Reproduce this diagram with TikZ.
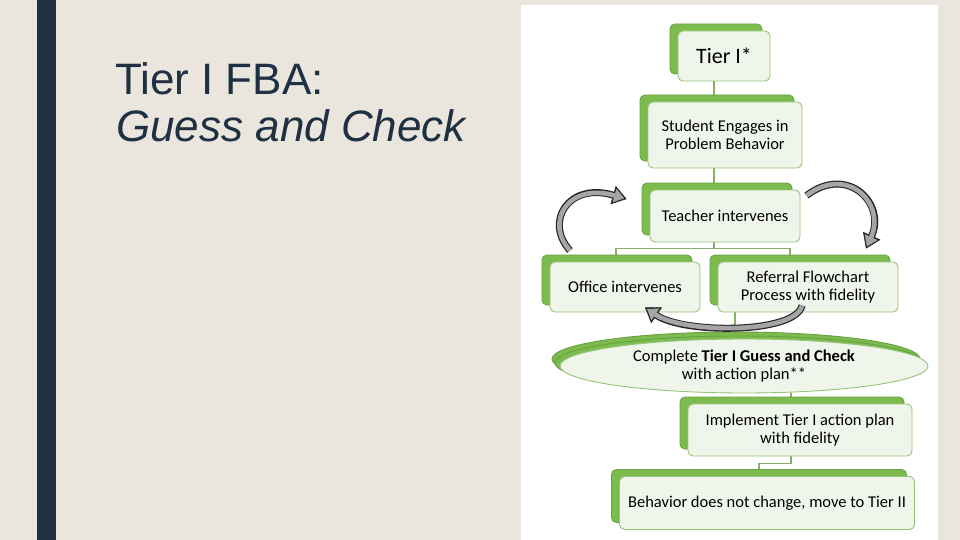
\documentclass[tikz,border=0pt]{standalone}
\usepackage{fontspec}
\setmainfont{Liberation Sans}
\newfontfamily\boxfont{Carlito}
\usetikzlibrary{shadows,arrows.meta,shapes.geometric,positioning}
\definecolor{slidebg}{RGB}{234,230,222}
\definecolor{navy}{RGB}{30,48,66}
\definecolor{leafgreen}{RGB}{124,188,78}
\definecolor{palegreen}{RGB}{240,245,235}
\definecolor{rimgreen}{RGB}{150,196,120}
\definecolor{stemgreen}{RGB}{132,176,104}
\pgfdeclarelayer{bg}
\pgfdeclarelayer{lines}
\pgfsetlayers{bg,lines,main}

\begin{document}
\begin{tikzpicture}[x=1pt, y=-1pt,
	tierbox/.style={draw=rimgreen, line width=0.9pt, fill=palegreen, rounded corners=5pt,
		align=center, inner sep=3pt, font=\boxfont\fontsize{16.5}{18}\selectfont,
		copy shadow={shadow xshift=-8pt, shadow yshift=7pt, fill=leafgreen, draw=leafgreen!85!black}},
	stem/.style={draw=stemgreen, line width=1.6pt},
	loopcurve/.style={line width=7pt, draw=black!85, -{Triangle[length=14pt,width=19pt,line width=0.5pt]},
		postaction={draw=gray!70, line width=4.6pt, shorten >=2.5pt, -{Triangle[length=10pt,width=14pt,line width=0.5pt]}}}]
	\useasboundingbox (0,0) rectangle (960,540);
	\begin{pgfonlayer}{bg}
		\fill[slidebg] (0,0) rectangle (960,540);
		\fill[navy] (37,0) rectangle (56,540);
		\fill[white] (521,5) rectangle (938,540);
	\end{pgfonlayer}
	% Titel
	\node[anchor=base west, inner sep=0pt, text=navy, font=\fontsize{44}{50}\selectfont] (title) at (115,95) {Tier I FBA:};
	\node[anchor=base west, inner sep=0pt, text=navy, font=\fontsize{44}{50}\selectfont\itshape] (subtitle) at (116,142) {Guess and Check};
	% Kaesten
	\node[tierbox, minimum width=92pt, minimum height=50pt, font=\boxfont\fontsize{22}{24}\selectfont] (tier) at (724,56) {Tier I*};
	\node[tierbox, minimum width=154pt, minimum height=66pt] (student) at (725,135) {Student Engages in\\Problem Behavior};
	\node[tierbox, minimum width=150pt, minimum height=52pt] (teacher) at (725,216) {Teacher intervenes};
	\node[tierbox, minimum width=150pt, minimum height=50pt] (office) at (625,287) {Office intervenes};
	\node[tierbox, minimum width=180pt, minimum height=50pt] (referral) at (808,287) {Referral Flowchart\\Process with fidelity};
	\node[tierbox, ellipse, rounded corners=0pt, minimum width=368pt, minimum height=54pt, inner sep=0pt,
		copy shadow={shadow xshift=-5pt, shadow yshift=3pt, fill=leafgreen, draw=leafgreen!85!black}] (guess) at (744,366)
		{Complete \textbf{Tier I Guess and Check}\\with action plan**};
	\node[tierbox, minimum width=224pt, minimum height=52pt] (implement) at (800,430) {Implement Tier I action plan\\with fidelity};
	\node[tierbox, minimum width=295pt, minimum height=53pt] (behavior) at (767,503) {Behavior does not change, move to Tier II};
	% Verbindungen
	\begin{pgfonlayer}{lines}
		\draw[stem] ([xshift=-10pt]tier.south) -- ([xshift=-10pt]tier.south |- student.north);
		\draw[stem] ([xshift=-11pt]student.south) -- ([xshift=-11pt]student.south |- teacher.north);
		\draw[stem] ([xshift=-11pt]teacher.south) -- ++(0,6) -| ([xshift=-9pt]office.north);
		\draw[stem] ([xshift=-11pt]teacher.south) ++(0,6) -| ([xshift=-18pt]referral.north);
		\draw[stem] ([xshift=-73pt]referral.south) -- ([xshift=-73pt]referral.south |- guess.north);
		\draw[stem] ([xshift=-9pt]implement.north) -- ([xshift=-9pt]implement.north |- guess.south);
		\draw[stem] ([xshift=-9pt]implement.south) -- ++(0,7) -| ([xshift=-8pt]behavior.north);
	\end{pgfonlayer}
	% graue Pfeile
	\coordinate (loopA) at ([shift={(-55,-11)}]office.north);
	\coordinate (loopB) at ([shift={(-23,-17)}]teacher.west);
	\coordinate (loopC) at ([shift={(6,6)}]teacher.north east);
	\coordinate (loopD) at ([shift={(58,-13)}]referral.north);
	\coordinate (loopE) at ([shift={(-6,-7)}]referral.south);
	\coordinate (loopF) at ([shift={(20,-5)}]office.south);
	\draw[loopcurve] (loopA) .. controls (544,222) and (568,182) .. (loopB);
	\draw[loopcurve] (loopC) .. controls (848,164) and (886,204) .. (loopD);
	\draw[loopcurve] (loopE) .. controls (796,334) and (684,334) .. (loopF);
\end{tikzpicture}
\end{document}
